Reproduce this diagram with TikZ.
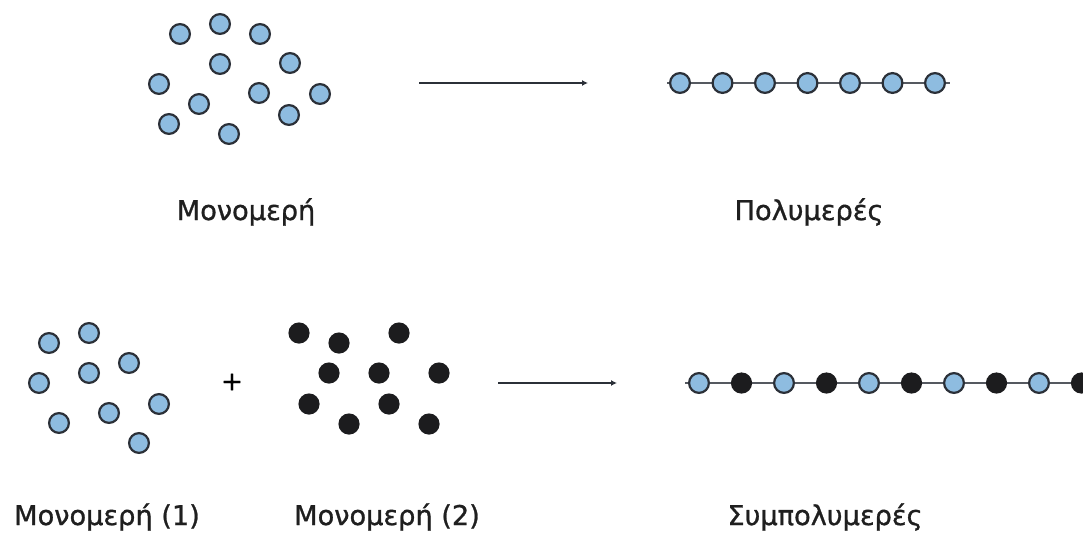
\documentclass[tikz,border=0pt]{standalone}
\usepackage{fontspec}
\setmainfont{DejaVu Sans}
\newfontfamily\lblfont[FakeBold=1.0]{DejaVu Sans}
\usetikzlibrary{arrows.meta}
\definecolor{monoblue}{HTML}{8EBCE0}
\definecolor{rim}{HTML}{2B3038}
\definecolor{dark}{HTML}{1C1C1E}
\begin{document}
\begin{tikzpicture}[x=0.5pt,y=-0.5pt,
  mono/.style={circle,draw=rim,line width=1.1pt,fill=monoblue,minimum size=9.9pt,inner sep=0pt},
  monob/.style={circle,fill=dark,minimum size=10.6pt,inner sep=0pt},
  bond/.style={draw=rim!80,line width=0.75pt},
  react/.style={draw=rim,line width=0.9pt,-{Latex[length=3pt,width=3pt]}},
  lbl/.style={anchor=base,font=\lblfont\fontsize{13.6}{16}\selectfont,text=black!88}]
\useasboundingbox (0,0) rectangle (1083,536);

% free monomers (top)
\foreach \x/\y [count=\i] in {180/34,220/24,260/34,220/64,290/63,159/84,259/93,320/94,199/104,289/115,169/124,229/134}
  \node[mono] (a\i) at (\x,\y) {};

% reaction arrow (top)
\coordinate (r1s) at (419,83);
\coordinate (r1e) at (588,83);
\draw[react] (r1s) -- (r1e);

% homopolymer chain
\coordinate (c1s) at (667,83);
\coordinate (c1e) at (950,83);
\draw[bond] (c1s) -- (c1e);
\foreach \i in {0,...,6}
  \node[mono] (p\i) at (680+42.5*\i,83) {};

\node[lbl] (l1) at (246,220) {Μονομερή};
\node[lbl] (l2) at (809,220) {Πολυμερές};

% monomers of type 1
\foreach \x/\y [count=\i] in {49/343,89/333,39/383,89/373,129/363,159/404,109/413,59/423,139/443}
  \node[mono] (b\i) at (\x,\y) {};

\node[font=\lblfont\fontsize{13}{15}\selectfont] (plus) at (232,382) {+};

% monomers of type 2
\foreach \x/\y [count=\i] in {299/333,339/343,399/333,329/373,379/373,439/373,309/404,389/404,349/424,429/424}
  \node[monob] (k\i) at (\x,\y) {};

% reaction arrow (bottom)
\coordinate (r2s) at (498,383);
\coordinate (r2e) at (617,383);
\draw[react] (r2s) -- (r2e);

% copolymer chain
\coordinate (c2s) at (685,383);
\coordinate (c2e) at (1090,383);
\draw[bond] (c2s) -- (c2e);
\foreach \i in {0,2,4,6,8}
  \node[mono] (q\i) at (699+42.5*\i,383) {};
\foreach \i in {1,3,5,7,9}
  \node[monob] (q\i) at (699+42.5*\i,383) {};

\node[lbl] (l3) at (107,525) {Μονομερή (1)};
\node[lbl] (l4) at (387,525) {Μονομερή (2)};
\node[lbl] (l5) at (825,525) {Συμπολυμερές};
\end{tikzpicture}
\end{document}
